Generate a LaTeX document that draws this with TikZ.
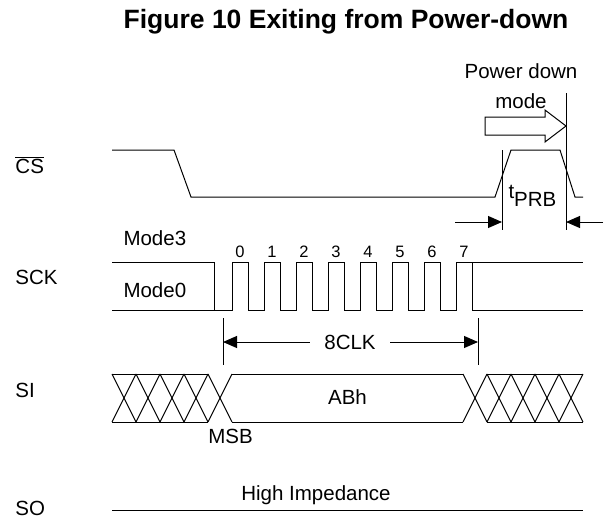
\documentclass[tikz,border=0pt]{standalone}
\usepackage{fontspec}
\setmainfont{Liberation Sans}
\usetikzlibrary{arrows.meta}
\begin{document}
\begin{tikzpicture}[x=1pt,y=-1pt,line width=1pt,
  lbl/.style={inner sep=0pt,font=\fontsize{20.5}{24}\selectfont},
  digit/.style={inner sep=0pt,anchor=base,font=\fontsize{16.5}{19}\selectfont},
  sig/.style={line width=1pt,line join=miter},
  dimarrow/.style={-{Triangle[length=14pt,width=12pt]},line width=1pt}]
\useasboundingbox (0,0) rectangle (613,520);
% title
\node[inner sep=0pt,anchor=base,font=\fontsize{26.5}{30}\selectfont\bfseries] (title) at (346,28) {Figure 10 Exiting from Power-down};
% signal names
\node[lbl,anchor=base west] (cs) at (15,173) {$\overline{\mbox{CS}}$};
\node[lbl,anchor=base west] (sck) at (15,284) {SCK};
\node[lbl,anchor=base west] (si) at (15,397) {SI};
\node[lbl,anchor=base west] (so) at (15,515) {SO};
% CS waveform
\draw[sig] (112,150) -- (174,150) -- (191,197) -- (495,197) -- (511,150) -- (560,150) -- (575,197) -- (583,197);
% tPRB
\coordinate (tl1) at (502,150); \coordinate (tl2) at (502,230);
\coordinate (tr1) at (566,93);  \coordinate (tr2) at (566,230);
\draw (tl1) -- (tl2);
\draw (tr1) -- (tr2);
\coordinate (la) at (455,222); \coordinate (lb) at (502,222);
\coordinate (ra) at (603,222); \coordinate (rb) at (566,222);
\draw[dimarrow] (la) -- (lb);
\draw[dimarrow] (ra) -- (rb);
\node[lbl,anchor=base west] (tprb) at (508,198) {t\raisebox{-8pt}{PRB}};
% power down block arrow
\draw[fill=white,line join=miter] (485,117) -- (545,117) -- (545,110) -- (566,126) -- (545,142) -- (545,135) -- (485,135) -- cycle;
\node[lbl,anchor=base] (pd1) at (521,78) {Power down};
\node[lbl,anchor=base] (pd2) at (521,108) {mode};
% SCK
\draw[sig] (112,262) -- (214,262) -- (214,310);
\draw[sig] (112,310) -- (232,310)
  foreach \i in {0,...,6} { -- ({232+32*\i},262) -- ({248+32*\i},262) -- ({248+32*\i},310) -- ({264+32*\i},310) }
  -- (456,262) -- (583,262);
\draw[sig] (472,262) -- (472,310) -- (583,310);
\foreach \i in {0,...,7} \node[digit] (d\i) at ({240+32*\i},257) {\i};
\node[lbl,anchor=base west] (m3) at (123,245) {Mode3};
\node[lbl,anchor=base west] (m0) at (123,297) {Mode0};
% 8CLK
\coordinate (k1a) at (223,318); \coordinate (k1b) at (223,365);
\coordinate (k2a) at (478,318); \coordinate (k2b) at (478,365);
\draw (k1a) -- (k1b);
\draw (k2a) -- (k2b);
\node[lbl,inner xsep=14pt] (clk) at (350,342) {8CLK};
\coordinate (c1) at (223,342); \coordinate (c2) at (478,342);
\draw[dimarrow] (clk.west) -- (c1);
\draw[dimarrow] (clk.east) -- (c2);
% SI
\foreach \a in {112,136,160,184,208,463,487,511,535,559} {
  \draw[sig] (\a,374) -- ({\a+24},422);
  \draw[sig] (\a,422) -- ({\a+24},374);
}
\draw[sig] (112,374) -- (208,374);
\draw[sig] (112,422) -- (208,422);
\draw[sig] (487,374) -- (583,374);
\draw[sig] (487,422) -- (583,422);
\draw[sig] (232,374) -- (463,374);
\draw[sig] (232,422) -- (463,422);
\node[lbl] (abh) at (347.5,397) {ABh};
\node[lbl,anchor=base] (msb) at (230.5,443) {MSB};
% SO
\draw[sig] (112,510) -- (583,510);
\node[lbl,anchor=base] (hiz) at (316,500) {High Impedance};
\end{tikzpicture}
\end{document}
